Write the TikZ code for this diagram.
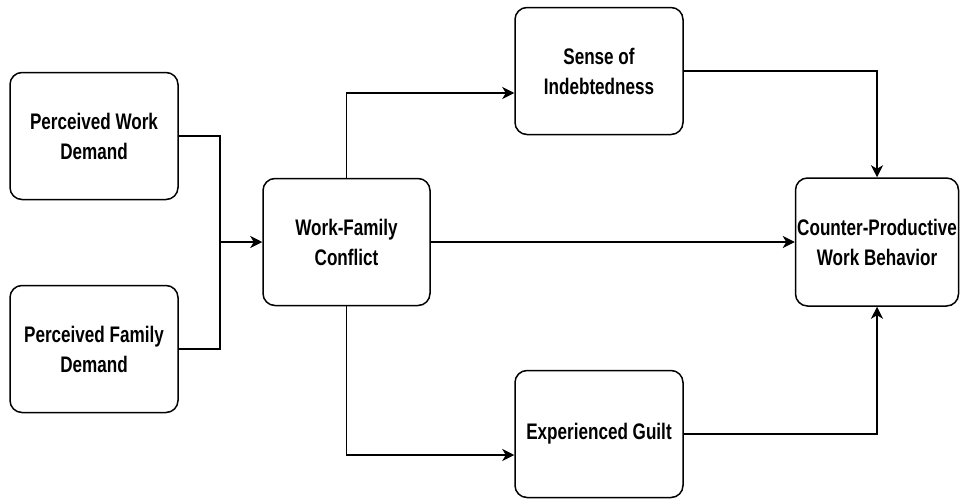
\documentclass[tikz,border=0pt]{standalone}
\usepackage{fontspec}
\setmainfont{Liberation Sans}[FakeStretch=0.76]
\usetikzlibrary{arrows.meta}
\begin{document}
\begin{tikzpicture}[x=1pt,y=-1pt,
  box/.style={draw, line width=1.5pt, rounded corners=12pt, minimum width=168pt, minimum height=127pt, align=center, font=\fontsize{22.5}{30}\selectfont\bfseries, inner sep=0pt},
  conn/.style={line width=1.5pt},
  arr/.style={conn, -{Stealth[length=12pt,width=12pt,inset=3.5pt]}}]
\useasboundingbox[fill=white] (0,0) rectangle (960,498);
\node[box] (pwd) at (94,136) {Perceived Work\\Demand};
\node[box] (pfd) at (94,349) {Perceived Family\\Demand};
\node[box, minimum width=167pt] (wfc) at (346.5,242) {Work-Family\\Conflict};
\node[box] (si) at (599,71) {Sense of\\Indebtedness};
\node[box] (eg) at (599,434) {Experienced Guilt};
\node[box, minimum width=163pt, minimum height=128pt] (cp) at (877,242) {Counter-Productive\\Work Behavior};
\coordinate (j) at (220,242);
\draw[conn] (pwd.east) -| (j);
\draw[conn] (pfd.east) -| (j);
\draw[arr] (j) -- (wfc.west);
\draw[arr] (wfc.north) |- ([yshift=-22pt]si.west);
\draw[arr] (wfc.south) |- ([yshift=-21pt]eg.west);
\draw[arr] (wfc.east) -- (cp.west);
\draw[arr] (si.east) -| (cp.north);
\draw[arr] (eg.east) -| (cp.south);
\end{tikzpicture}
\end{document}
